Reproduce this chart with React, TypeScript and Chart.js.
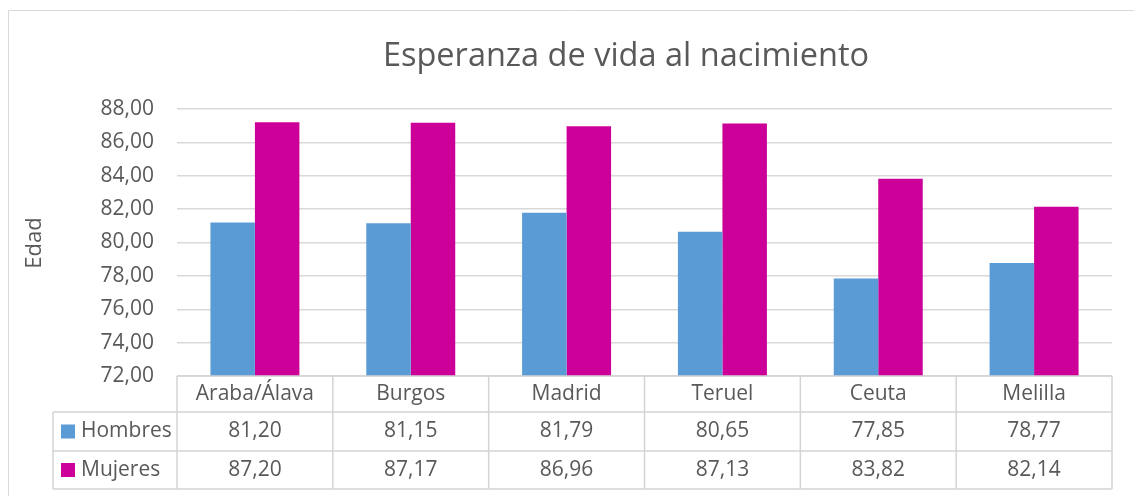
import React, { useEffect, useRef } from "react";
import { Chart, registerables } from "chart.js";

Chart.register(...registerables);

const chartTitle = "Esperanza de vida al nacimiento";
const yAxisTitle = "Edad";
const categories = ["Araba/Álava", "Burgos", "Madrid", "Teruel", "Ceuta", "Melilla"];
const seriesNames = ["Hombres", "Mujeres"];
const hombres = [81.2, 81.15, 81.79, 80.65, 77.85, 78.77];
const mujeres = [87.2, 87.17, 86.96, 87.13, 83.82, 82.14];
const seriesColors = ["#5B9BD5", "#CC0099"];
const yMin = 72;
const yMax = 88;
const yStep = 2;

const FONT = "'Open Sans', sans-serif";
const TEXT = "#595959";
const LINE = "#D9D9D9";

const fmt = (v: number) => v.toFixed(2).replace(".", ",");

const tablePlugin = {
  id: "dataTable",
  afterDraw(chart: any) {
    const ctx = chart.ctx;
    const area = chart.chartArea;
    const xs = chart.scales.x;
    const n = categories.length;
    const catW = (area.right - area.left) / n;
    const top = area.bottom;
    const r1 = top + 36;
    const r2 = r1 + 39;
    const r3 = r2 + 38;
    const legendLeft = 53;
    ctx.save();
    // outer chart border
    ctx.strokeStyle = LINE;
    ctx.lineWidth = 1;
    ctx.beginPath();
    ctx.moveTo(8.5, chart.height);
    ctx.lineTo(8.5, 10.5);
    ctx.lineTo(chart.width, 10.5);
    ctx.stroke();

    // title
    ctx.fillStyle = TEXT;
    ctx.font = `32.5px ${FONT}`;
    ctx.textAlign = "center";
    ctx.textBaseline = "middle";
    ctx.fillText(chartTitle, 626, 57);

    // y title
    ctx.save();
    ctx.translate(35, 243);
    ctx.rotate(-Math.PI / 2);
    ctx.font = `22px ${FONT}`;
    ctx.fillText(yAxisTitle, 0, 0);
    ctx.restore();

    // table lines
    ctx.strokeStyle = "#D4D4D4";
    ctx.lineWidth = 1.5;
    ctx.beginPath();
    ctx.moveTo(area.left, top);
    ctx.lineTo(area.right, top);
    [r1, r2, r3].forEach((y) => {
      ctx.moveTo(legendLeft, y);
      ctx.lineTo(area.right, y);
    });
    for (let i = 0; i <= n; i++) {
      const x = area.left + i * catW;
      ctx.moveTo(x, top);
      ctx.lineTo(x, r3);
    }
    ctx.moveTo(legendLeft, r1);
    ctx.lineTo(legendLeft, r3);
    ctx.stroke();

    // header
    ctx.fillStyle = TEXT;
    ctx.font = `21px ${FONT}`;
    ctx.textAlign = "center";
    ctx.textBaseline = "middle";
    categories.forEach((c, i) => {
      const x = xs.getPixelForValue(i);
      ctx.fillText(c, x, (top + r1) / 2);
    });
    const rows = [
      { y: (r1 + r2) / 2, data: chart.data.datasets[0] },
      { y: (r2 + r3) / 2, data: chart.data.datasets[1] },
    ];
    rows.forEach((row) => {
      ctx.fillStyle = row.data.backgroundColor;
      ctx.fillRect(61, row.y - 7, 14, 14);
      ctx.fillStyle = TEXT;
      ctx.textAlign = "left";
      ctx.fillText(row.data.label, 81, row.y);
      ctx.textAlign = "center";
      row.data.data.forEach((v: number, i: number) => {
        ctx.fillText(fmt(v), xs.getPixelForValue(i), row.y);
      });
    });
    ctx.restore();
  },
};

export default function App() {
  const ref = useRef<HTMLCanvasElement | null>(null);
  useEffect(() => {
    if (!ref.current) return;
    const chart = new Chart(ref.current, {
      type: "bar",
      data: {
        labels: categories,
        datasets: [
          { label: seriesNames[0], data: hombres, backgroundColor: seriesColors[0] },
          { label: seriesNames[1], data: mujeres, backgroundColor: seriesColors[1] },
        ],
      },
      options: {
        responsive: false,
        animation: false,
        devicePixelRatio: 1,
        layout: { padding: { left: 0, right: 22, top: 109, bottom: 120 } },
        datasets: { bar: { categoryPercentage: 0.571, barPercentage: 1 } },
        plugins: {
          legend: { display: false },
          title: { display: false },
          tooltip: { enabled: false },
        },
        scales: {
          x: {
            grid: { display: false, drawTicks: false },
            border: { display: false },
            ticks: { display: false },
            afterFit: (s: any) => {
              s.height = 0;
            },
          },
          y: {
            min: yMin,
            max: yMax,
            grid: { color: LINE, lineWidth: 1.5, drawTicks: false },
            border: { display: false },
            ticks: {
              stepSize: yStep,
              padding: 23,
              color: TEXT,
              font: { family: FONT, size: 21 },
              callback: (v: any) => fmt(Number(v)),
            },
            afterFit: (s: any) => {
              s.width = 177;
            },
          },
        },
      },
      plugins: [tablePlugin],
    });
    return () => chart.destroy();
  }, []);
  return (
    <div style={{ position: "absolute", left: 0, top: 0, width: 1134, height: 496, background: "#fff" }}>
      <canvas ref={ref} width={1134} height={496} />
    </div>
  );
}
